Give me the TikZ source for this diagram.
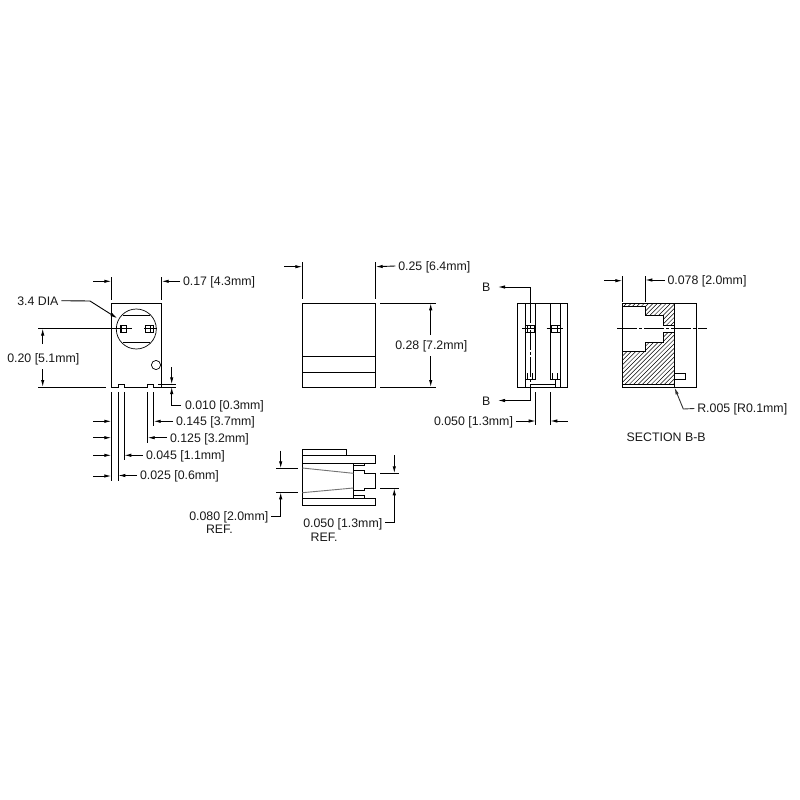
\documentclass[tikz,border=0pt]{standalone}
\usepackage{fontspec}
\setmainfont{Liberation Sans}
\usetikzlibrary{arrows.meta}
\tikzset{
  part/.style={draw=black,line width=1pt,line join=miter},
  thin part/.style={draw=black,line width=0.7pt},
  dim/.style={draw=black,line width=0.9pt},
  dimarrow/.style={draw=black,line width=0.9pt,-{Latex[length=7pt,width=3.4pt]}},
  centerline/.style={draw=black,line width=0.9pt,dash pattern=on 20pt off 2pt on 3pt off 2pt},
  taper/.style={draw=black!55,line width=0.9pt},
  hatch/.style={draw=black,line width=0.5pt},
  label/.style={inner sep=0pt,outer xsep=3pt,outer ysep=0pt,anchor=west,text height=8.8pt,text depth=0pt,
    font=\fontsize{12.35}{14}\selectfont,text=black!90}
}
\begin{document}
\begin{tikzpicture}[x=1pt,y=-1pt]
\useasboundingbox (0,0) rectangle (800,800);
\fill[white] (0,0) rectangle (800,800);

% ---------- labels ----------
\node[label] (t017) at (180,281.3) {0.17 [4.3mm]};
\node[label] (t34) at (14.3,300.7) {3.4 DIA};
\node[label] (t020) at (4.3,357.7) {0.20 [5.1mm]};
\node[label] (t010) at (182,405) {0.010 [0.3mm]};
\node[label] (t145) at (173,421.3) {0.145 [3.7mm]};
\node[label] (t125) at (167,437.7) {0.125 [3.2mm]};
\node[label] (t045) at (143,455.3) {0.045 [1.1mm]};
\node[label] (t025) at (137,475.5) {0.025 [0.6mm]};
\node[label] (t025b) at (395.3,266) {0.25 [6.4mm]};
\node[label] (t028) at (392.3,345) {0.28 [7.2mm]};
\node[label] (tb1) at (479,287) {B};
\node[label] (tb2) at (479,401) {B};
\node[label] (t050a) at (431,421) {0.050 [1.3mm]};
\node[label] (t078) at (664.5,280) {0.078 [2.0mm]};
\node[label] (tr) at (694.3,408.5) {R.005 [R0.1mm]};
\node[label] (tsec) at (623.7,436.7) {SECTION B-B};
\node[label] (t080) at (186.3,516) {0.080 [2.0mm]};
\node[label] (tref1) at (203,529) {REF.};
\node[label] (t050b) at (300.3,522.7) {0.050 [1.3mm]};
\node[label] (tref2) at (307.7,536.7) {REF.};

% ---------- front view ----------
\draw[part] (111.3,303.3) -- (161.7,303.3) -- (161.7,387) -- (153.7,387) -- (153.7,384.3) -- (147.7,384.3) -- (147.7,387)
  -- (124.3,387) -- (124.3,384.3) -- (118.3,384.3) -- (118.3,387) -- (111.3,387) -- cycle;
\draw[thin part] (136.3,329) circle[radius=20];
\draw[thin part] (156,365) circle[radius=4.6];
\draw[part] (123,315.3) -- (150,315.3) (123,342.3) -- (150,342.3);
\draw[part] (120,325.3) rectangle (126,332.5);
\draw[part] (145.7,325.3) rectangle (153.3,332.5);
\draw[part] (121.7,325.3) -- (121.7,332.5) (150,325.3) -- (150,332.5);
\draw[part] (144.3,328.5) -- (156.7,328.5);
\draw[dim] (38,328.5) -- (131.7,328.5);
\draw[dim] (38,387) -- (105.5,387);
\draw[dimarrow] (42.7,344) -- (42.7,328.5);
\draw[dimarrow] (42.7,369) -- (42.7,387);
\draw[dim] (158.3,384.3) -- (175.7,384.3) (161.7,387) -- (175.7,387);
\draw[dimarrow] (171.7,367.3) -- (171.7,384.3);
\draw[dimarrow] ([xshift=-1pt]t010.west) -| (171.7,387);
\draw[dim] (111.3,277.3) -- (111.3,300) (161.7,277.3) -- (161.7,300);
\draw[dimarrow] (93,281.3) -- (111.3,281.3);
\draw[dimarrow] (t017.west) -- (161.7,281.3);
\draw[dimarrow] (t34.east) -- (90,301) -- (117.3,318.3);
\draw[dim] (111.3,392) -- (111.3,480.7) (118.3,392) -- (118.3,480.7) (124.3,392) -- (124.3,460)
  (147.7,392) -- (147.7,442.7) (153.7,392) -- (153.7,426);
\foreach \yy in {421.3,437.7,455.3,476} \draw[dimarrow] (93,\yy) -- (111.3,\yy);
\draw[dimarrow] (t145.west) -- (153.7,421.3);
\draw[dimarrow] (t125.west) -- (147.7,437.7);
\draw[dimarrow] (t045.west) -- (124.3,455.3);
\draw[dimarrow] (t025.west) -- (118.3,475.5);

% ---------- side view ----------
\draw[part] (302.3,303.3) rectangle (375.7,387);
\draw[part] (302.3,356.3) -- (375.7,356.3) (302.3,372.3) -- (375.7,372.3);
\draw[dim] (302.3,262) -- (302.3,299.3) (375.7,262) -- (375.7,299.3);
\draw[dimarrow] (284,266.7) -- (302.3,266.7);
\draw[dimarrow] (t025b.west) -- (375.7,266.7);
\draw[dim] (380,303.3) -- (435.7,303.3) (380,387) -- (435.7,387);
\draw[dimarrow] (430.7,335) -- (430.7,303.3);
\draw[dimarrow] (430.7,356) -- (430.7,387);

% ---------- rear view ----------
\draw[part] (517.5,303.3) rectangle (567.3,387.3);
\draw[part] (525.7,303.3) -- (525.7,387.3) (535.7,303.3) -- (535.7,379.5) (550.3,303.3) -- (550.3,379.5) (560.3,303.3) -- (560.3,387.3);
\draw[part] (525.7,379.5) -- (535.7,379.5) (550.3,379.5) -- (560.3,379.5);
\draw[thin part] (527.3,373) -- (527.3,379.5) (532,373) -- (532,379.5) (552,373) -- (552,379.5) (557,373) -- (557,379.5);
\draw[part] (530.7,384.7) -- (555,384.7) -- (555,379.5) (525.7,387.3) -- (555,387.3) -- (555,384.7);
\draw[part] (525.7,325.3) rectangle (534,332.7);
\draw[part] (551.7,325.3) rectangle (560,332.7);
\draw[part] (522.3,328.5) -- (534,328.5) (527.5,325.3) -- (527.5,332.7) (546.5,328.5) -- (562.7,328.5) (557,325.3) -- (557,332.7);
\draw[dimarrow] (530.7,303.3) -- (530.7,287) -- (498,287);
\draw[centerline] (530.7,303.3) -- (530.7,384.7);
\draw[dimarrow] (530.7,384.7) -- (530.7,400.5) -- (498,400.5);
\draw[dim] (535.7,392) -- (535.7,425.3) (550.3,392) -- (550.3,425.3);
\draw[dimarrow] (t050a.east) -- (535.7,421);
\draw[dimarrow] (567.7,421) -- (550.3,421);

% ---------- section view ----------
\begin{scope}
\clip (622.3,303.3) -- (674,303.3) -- (674,325) -- (663.7,325) -- (663.7,315) -- (645.7,315) -- (645.7,306.3) -- (622.3,306.3) -- cycle
      (674,332.3) -- (663.7,332.3) -- (663.7,342) -- (645.7,342) -- (645.7,351) -- (622.3,351) -- (622.3,384) -- (674,384) -- cycle;
\foreach \xx in {0,...,40} \draw[hatch] ({540+\xx*4.4},390) -- ({630+\xx*4.4},300);
\end{scope}
\draw[part] (622.3,303.3) rectangle (696.7,387);
\draw[part] (674,303.3) -- (674,387);
\draw[part] (622.3,306.3) -- (645.7,306.3) -- (645.7,315) -- (663.7,315) -- (663.7,325) -- (674,325);
\draw[part] (674,332.3) -- (663.7,332.3) -- (663.7,342) -- (645.7,342) -- (645.7,351) -- (622.3,351);
\draw[part] (622.3,384) -- (674,384);
\draw[part] (674,373.3) rectangle (685.7,379.3);
\draw[centerline] (617,328.5) -- (706.7,328.5);
\draw[dim] (622.3,276) -- (622.3,301.7) (645.3,276) -- (645.3,301.7);
\draw[dimarrow] (604,280.7) -- (622.3,280.7);
\draw[dimarrow] (t078.west) -- (645.3,280);
\draw[dimarrow,draw=black!80] (tr.west) -- (683.3,409) -- (674.5,387.5);

% ---------- bottom view ----------
\draw[part] (302.3,449.3) -- (346.7,449.3) -- (346.7,455.3);
\draw[part] (302.3,449.3) -- (302.3,505.3) -- (375.7,505.3) -- (375.7,498.3) -- (302.3,498.3);
\draw[part] (302.3,455.3) -- (375.7,455.3) -- (375.7,463.3) -- (302.3,463.3);
\draw[part] (353.3,463.3) -- (353.3,498.3);
\draw[thin part] (353.3,465.7) -- (364.7,465.7) -- (364.7,463.3);
\draw[thin part] (353.3,495) -- (364.7,495) -- (364.7,498.3);
\draw[part] (353.3,470.5) -- (364.7,470.5) -- (364.7,473.3) -- (375.7,473.3) -- (375.7,488) -- (364.7,488) -- (364.7,490.5) -- (353.3,490.5);
\draw[taper] (302.3,468) -- (353.3,473.3);
\draw[taper] (302.3,492.7) -- (353.3,488);
\draw[dim] (276,468.3) -- (297.7,468.3) (276,492.3) -- (297.7,492.3);
\draw[dimarrow] (280.7,450.7) -- (280.7,468.3);
\draw[dimarrow] (t080.east) -| (280.7,492.3);
\draw[dim] (380,473.3) -- (399,473.3) (380,488.3) -- (399,488.3);
\draw[dimarrow] (394.3,455) -- (394.3,473.3);
\draw[dimarrow] (t050b.east) -| (394.3,488.3);
\end{tikzpicture}
\end{document}
